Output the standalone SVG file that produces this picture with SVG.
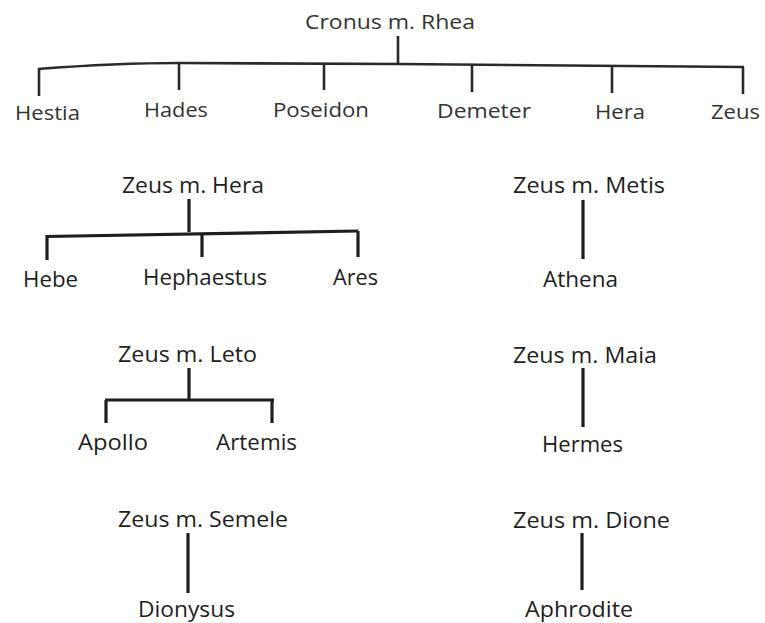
<svg xmlns="http://www.w3.org/2000/svg" width="765" height="623" viewBox="0 0 765 623">
<style>
text{font-family:"Open Sans","Noto Sans","Liberation Sans",sans-serif;font-size:21px;fill:#1e1e1e}
.top{fill:#333;font-size:20.5px}
.ln{stroke:#1e1e1e;stroke-width:3.2;fill:none;stroke-linecap:butt}
.lt{stroke:#2a2a2a;stroke-width:2.6;fill:none}
</style>
<rect width="765" height="623" fill="#fff"/>
<g id="connectors">
<path class="lt" d="M398,36 V64"/>
<path class="lt" d="M38,69 C90,65 140,63 180,63 L398,64 L744,67"/>
<path class="lt" d="M39,68 V96"/>
<path class="lt" d="M179,63 V90"/>
<path class="lt" d="M324,64 V90"/>
<path class="lt" d="M472,65 V92"/>
<path class="lt" d="M612,66 V93"/>
<path class="lt" d="M743,67 V94"/>
<path class="ln" d="M189,199 V232"/>
<path class="ln" d="M46,236.5 L358,231"/>
<path class="ln" d="M47,235 V260"/>
<path class="ln" d="M202,233 V257"/>
<path class="ln" d="M358,231 V257"/>
<path class="ln" d="M189,368 V400"/>
<path class="ln" d="M105,400 H274"/>
<path class="ln" d="M106,400 V423"/>
<path class="ln" d="M272,400 V423"/>
<path class="ln" d="M188,533 V593"/>
<path class="ln" d="M583,200 V259"/>
<path class="ln" d="M583,368 V427"/>
<path class="ln" d="M582,533 V590"/>
</g>
<g id="cronus-rhea"><text class="top" x="305" y="29" textLength="170" lengthAdjust="spacingAndGlyphs">Cronus m. Rhea</text></g>
<g id="hestia"><text class="top" x="15" y="120" textLength="65" lengthAdjust="spacingAndGlyphs">Hestia</text></g>
<g id="hades"><text class="top" x="144" y="117" textLength="64" lengthAdjust="spacingAndGlyphs">Hades</text></g>
<g id="poseidon"><text class="top" x="273" y="117" textLength="96" lengthAdjust="spacingAndGlyphs">Poseidon</text></g>
<g id="demeter"><text class="top" x="437" y="118" textLength="94" lengthAdjust="spacingAndGlyphs">Demeter</text></g>
<g id="hera"><text class="top" x="595" y="119" textLength="50" lengthAdjust="spacingAndGlyphs">Hera</text></g>
<g id="zeus"><text class="top" x="711" y="119" textLength="49" lengthAdjust="spacingAndGlyphs">Zeus</text></g>
<g id="zeus-hera"><text x="122" y="193" textLength="142" lengthAdjust="spacingAndGlyphs">Zeus m. Hera</text></g>
<g id="hebe"><text x="23" y="287" textLength="55" lengthAdjust="spacingAndGlyphs">Hebe</text></g>
<g id="hephaestus"><text x="143" y="285" textLength="124" lengthAdjust="spacingAndGlyphs">Hephaestus</text></g>
<g id="ares"><text x="333" y="285" textLength="45" lengthAdjust="spacingAndGlyphs">Ares</text></g>
<g id="zeus-leto"><text x="118" y="362" textLength="139" lengthAdjust="spacingAndGlyphs">Zeus m. Leto</text></g>
<g id="apollo"><text x="78" y="450" textLength="70" lengthAdjust="spacingAndGlyphs">Apollo</text></g>
<g id="artemis"><text x="216" y="450" textLength="81" lengthAdjust="spacingAndGlyphs">Artemis</text></g>
<g id="zeus-semele"><text x="118" y="527" textLength="170" lengthAdjust="spacingAndGlyphs">Zeus m. Semele</text></g>
<g id="dionysus"><text x="138" y="617" textLength="97" lengthAdjust="spacingAndGlyphs">Dionysus</text></g>
<g id="zeus-metis"><text x="513" y="193" textLength="152" lengthAdjust="spacingAndGlyphs">Zeus m. Metis</text></g>
<g id="athena"><text x="543" y="287" textLength="75" lengthAdjust="spacingAndGlyphs">Athena</text></g>
<g id="zeus-maia"><text x="513" y="363" textLength="144" lengthAdjust="spacingAndGlyphs">Zeus m. Maia</text></g>
<g id="hermes"><text x="542" y="452" textLength="81" lengthAdjust="spacingAndGlyphs">Hermes</text></g>
<g id="zeus-dione"><text x="513" y="528" textLength="157" lengthAdjust="spacingAndGlyphs">Zeus m. Dione</text></g>
<g id="aphrodite"><text x="525" y="617" textLength="108" lengthAdjust="spacingAndGlyphs">Aphrodite</text></g>
</svg>
